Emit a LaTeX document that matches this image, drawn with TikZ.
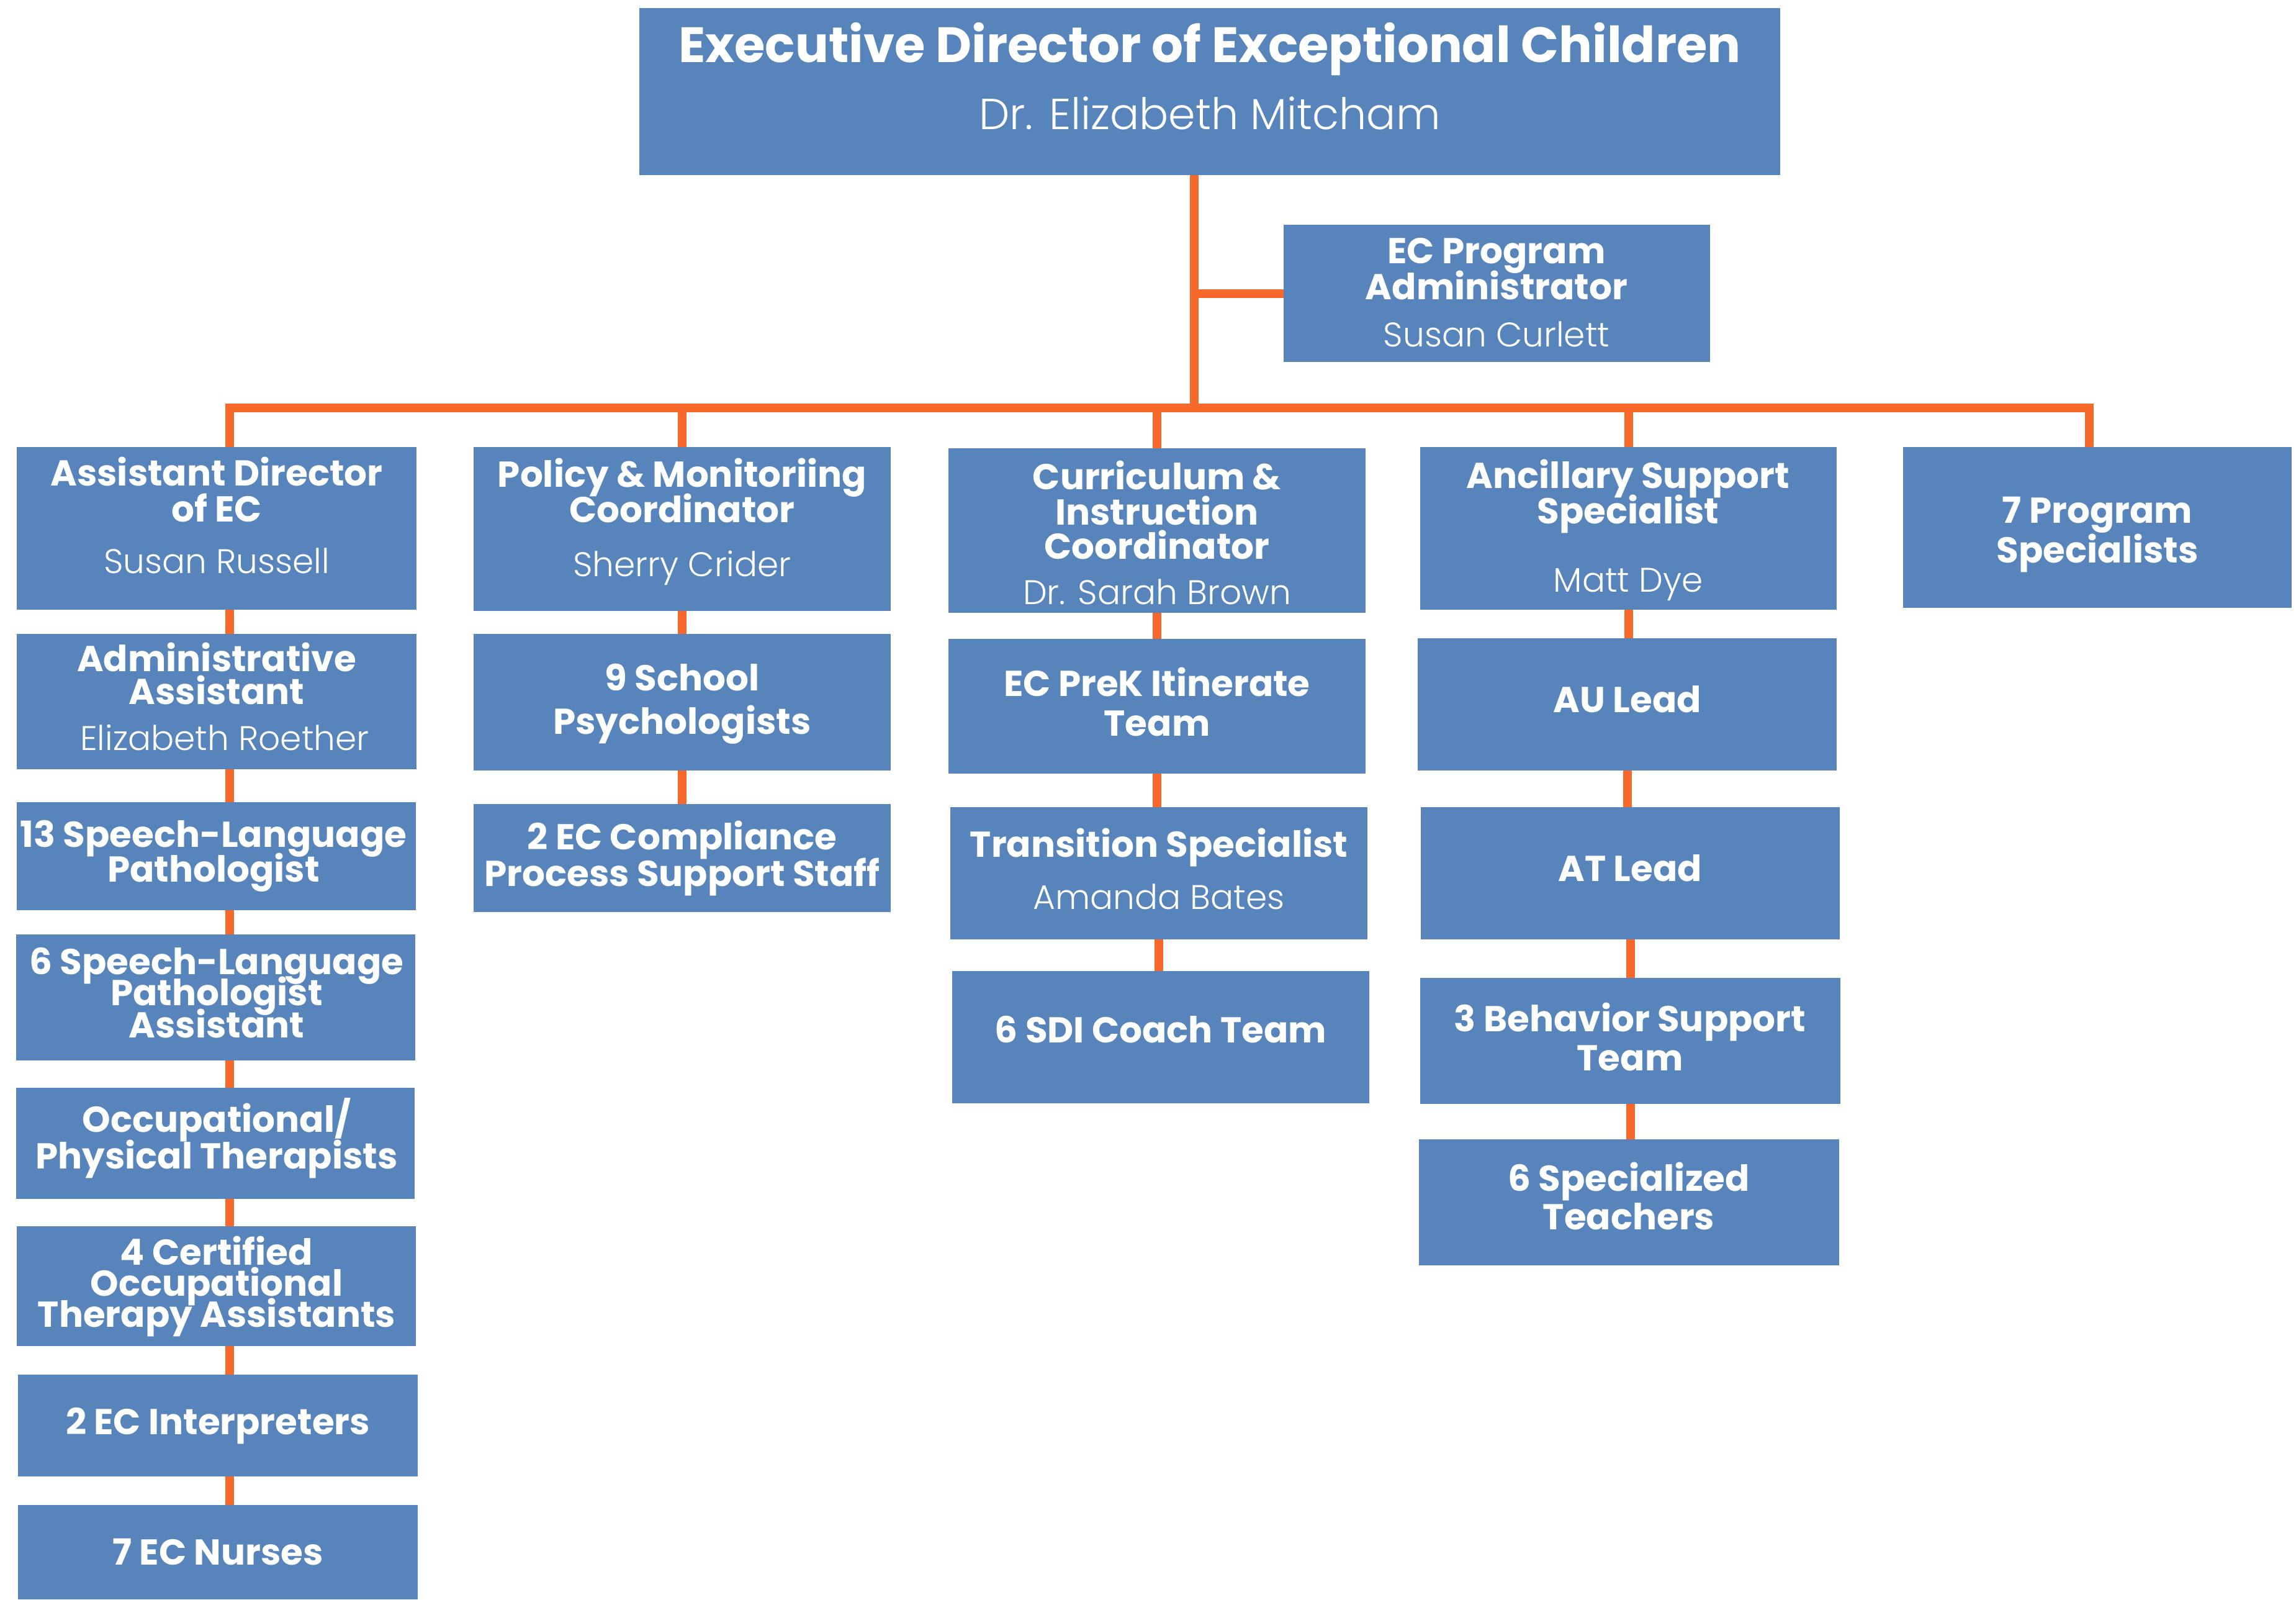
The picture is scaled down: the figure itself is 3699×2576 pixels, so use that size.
\documentclass[tikz,border=0pt]{standalone}
\usepackage{fontspec}
\setmainfont{Poppins}[BoldFont=* Bold]
\newfontfamily\namefont{Poppins}[UprightFont=* Light]
\definecolor{boxblue}{HTML}{5784BA}
\definecolor{lineorange}{HTML}{F7692B}
\tikzset{
  box/.style={fill=boxblue, draw=none, inner sep=0pt, outer sep=0pt},
  ttl/.style={anchor=base, text=white, inner sep=0pt, font=\fontsize{58}{58}\selectfont\bfseries},
  bigttl/.style={anchor=base, text=white, inner sep=0pt, font=\fontsize{80}{80}\selectfont\bfseries},
  nm/.style={anchor=base, text=white, inner sep=0pt, font=\namefont\fontsize{55}{55}\selectfont},
  bignm/.style={anchor=base, text=white, inner sep=0pt, font=\namefont\fontsize{70}{70}\selectfont},
  conn/.style={draw=lineorange, line width=14pt, line join=miter}
}
\newcommand\bx[5]{\node[box, minimum width={#4pt-#2pt}, minimum height={#5pt-#3pt}] (#1) at ({(#2+#4)/2},{(#3+#5)/2}) {};}
\newcommand\tl[5]{\node[#1] (#2) at (#3,#4) {#5};}
\begin{document}
\begin{tikzpicture}[x=1pt,y=-1pt]
\useasboundingbox (0,0) rectangle (3699,2576);
% boxes
\bx{top}{1030}{13}{2868}{282}
\bx{ecp}{2068}{362}{2755}{583}
\bx{c1a}{27}{720}{671}{982}
\bx{c1b}{27}{1021}{671}{1239}
\bx{c1c}{27}{1292}{670}{1466}
\bx{c1d}{26}{1505}{669}{1708}
\bx{c1e}{26}{1752}{668}{1931}
\bx{c1f}{27}{1975}{670}{2168}
\bx{c1g}{29}{2214}{673}{2378}
\bx{c1h}{29}{2424}{673}{2576}
\bx{c2a}{763}{720}{1435}{984}
\bx{c2b}{763}{1021}{1435}{1241}
\bx{c2c}{763}{1295}{1435}{1469}
\bx{c3a}{1528}{722}{2200}{987}
\bx{c3b}{1528}{1029}{2200}{1246}
\bx{c3c}{1531}{1300}{2203}{1513}
\bx{c3d}{1534}{1564}{2206}{1777}
\bx{c4a}{2288}{720}{2959}{982}
\bx{c4b}{2284}{1028}{2959}{1241}
\bx{c4c}{2289}{1300}{2964}{1513}
\bx{c4d}{2288}{1575}{2965}{1778}
\bx{c4e}{2286}{1835}{2963}{2038}
\bx{c5a}{3066}{720}{3692}{979}
% junction coordinates
\coordinate (tk) at (1924,282);
\coordinate (j0) at (1924,657);
\coordinate (jL) at (370,657);
\coordinate (jR) at (3366,657);
% connectors
\draw[conn] (tk) -- (j0);
\draw[conn] (tk |- ecp.west) -- (ecp.west);
\draw[conn] (jL |- c1a.north) -- (jL) -- (jR) -- (jR |- c5a.north);
\draw[conn] (c2a.north) -- (c2a.north |- j0);
\draw[conn] (c3a.north) -- (c3a.north |- j0);
\draw[conn] (c4a.north) -- (c4a.north |- j0);
\foreach \a/\b in {c1a/c1b,c1b/c1c,c1c/c1d,c1d/c1e,c1e/c1f,c1f/c1g,c1g/c1h}
  \draw[conn] (jL |- \a.south) -- (jL |- \b.north);
\foreach \a/\b in {c2a/c2b,c2b/c2c,c3a/c3b,c3b/c3c,c3c/c3d,c4a/c4b,c4b/c4c,c4c/c4d,c4d/c4e}
  \draw[conn] (\a.south) -- (\a.south |- \b.north);
% texts
\tl{bigttl}{t0}{1949}{100}{Executive Director of Exceptional Children}
\tl{bignm}{t1}{1949}{208}{Dr. Elizabeth Mitcham}
\tl{ttl}{e0}{2411}{424}{EC Program}
\tl{ttl}{e1}{2411}{482}{Administrator}
\tl{nm}{e2}{2411}{558}{Susan Curlett}
\tl{ttl}{a0}{349}{782}{Assistant Director}
\tl{ttl}{a1}{349}{840}{of EC}
\tl{nm}{a2}{349}{923}{Susan Russell}
\tl{ttl}{b0}{349}{1081}{Administrative}
\tl{ttl}{b1}{349}{1134}{Assistant}
\tl{nm}{b2}{362}{1208}{Elizabeth Roether}
\tl{ttl}{c0}{344}{1364}{13 Speech-Language}
\tl{ttl}{c1}{344}{1420}{Pathologist}
\tl{ttl}{d0}{349}{1569}{6 Speech-Language}
\tl{ttl}{d1}{349}{1619}{Pathologist}
\tl{ttl}{d2}{349}{1671}{Assistant}
\tl{ttl}{f0}{349}{1823}{Occupational/}
\tl{ttl}{f1}{349}{1882}{Physical Therapists}
\tl{ttl}{g0}{349}{2037}{4 Certified}
\tl{ttl}{g1}{349}{2087}{Occupational}
\tl{ttl}{g2}{349}{2137}{Therapy Assistants}
\tl{ttl}{h0}{351}{2310}{2 EC Interpreters}
\tl{ttl}{i0}{351}{2520}{7 EC Nurses}
\tl{ttl}{p0}{1099}{784}{Policy \& Monitoriing}
\tl{ttl}{p1}{1099}{841}{Coordinator}
\tl{nm}{p2}{1099}{928}{Sherry Crider}
\tl{ttl}{q0}{1099}{1112}{9 School}
\tl{ttl}{q1}{1099}{1182}{Psychologists}
\tl{ttl}{r0}{1099}{1368}{2 EC Compliance}
\tl{ttl}{r1}{1099}{1427}{Process Support Staff}
\tl{ttl}{s0}{1864}{788}{Curriculum \&}
\tl{ttl}{s1}{1864}{845}{Instruction}
\tl{ttl}{s2}{1864}{900}{Coordinator}
\tl{nm}{s3}{1864}{973}{Dr. Sarah Brown}
\tl{ttl}{u0}{1864}{1121}{EC PreK Itinerate}
\tl{ttl}{u1}{1864}{1185}{Team}
\tl{ttl}{v0}{1867}{1380}{Transition Specialist}
\tl{nm}{v1}{1867}{1464}{Amanda Bates}
\tl{ttl}{w0}{1870}{1679}{6 SDI Coach Team}
\tl{ttl}{x0}{2623}{786}{Ancillary Support}
\tl{ttl}{x1}{2623}{843}{Specialist}
\tl{nm}{x2}{2623}{953}{Matt Dye}
\tl{ttl}{y0}{2622}{1147}{AU Lead}
\tl{ttl}{y1}{2626}{1419}{AT Lead}
\tl{ttl}{y2}{2626}{1661}{3 Behavior Support}
\tl{ttl}{y3}{2626}{1724}{Team}
\tl{ttl}{y4}{2624}{1918}{6 Specialized}
\tl{ttl}{y5}{2624}{1980}{Teachers}
\tl{ttl}{z0}{3379}{842}{7 Program}
\tl{ttl}{z1}{3379}{906}{Specialists}
\end{tikzpicture}
\end{document}
